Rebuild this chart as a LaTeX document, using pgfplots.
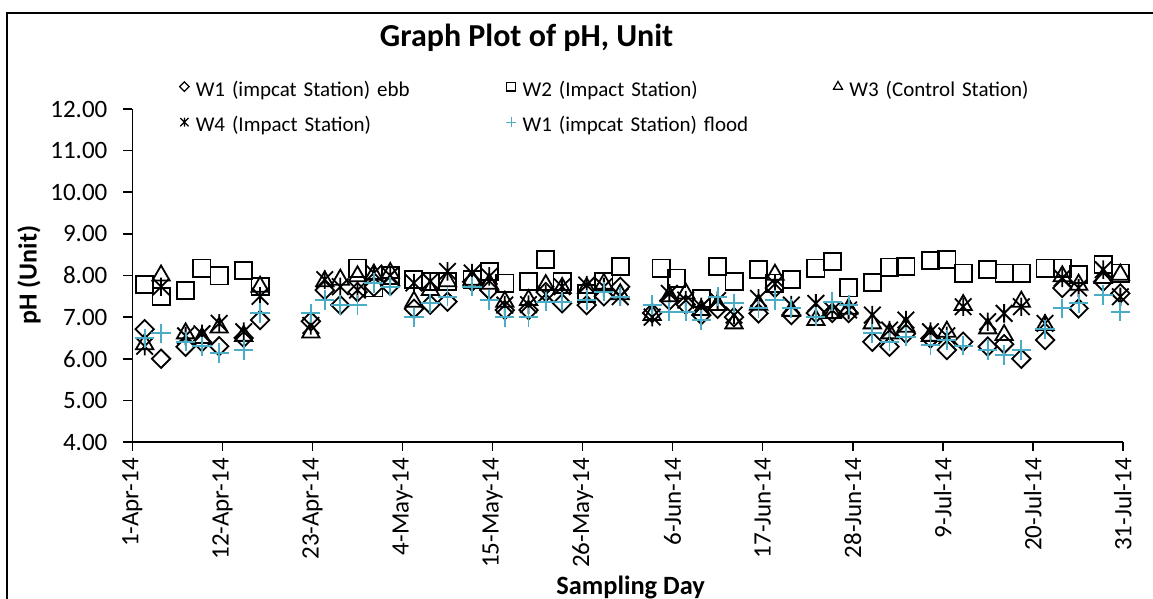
\documentclass[border=0pt]{standalone}
\usepackage{pgfplots}
\usepackage{pgfplotstable}
\pgfplotsset{compat=1.18}
\usepackage{fontspec}
\setmainfont{Carlito}
\definecolor{flood}{RGB}{75,172,198}

% Excel style markers: diamond = square turned 45 deg, star = X with a vertical bar
\pgfdeclareplotmark{xldiamond}{%
  \pgfpathmoveto{\pgfqpoint{0pt}{\pgfplotmarksize}}%
  \pgfpathlineto{\pgfqpoint{\pgfplotmarksize}{0pt}}%
  \pgfpathlineto{\pgfqpoint{0pt}{-\pgfplotmarksize}}%
  \pgfpathlineto{\pgfqpoint{-\pgfplotmarksize}{0pt}}%
  \pgfpathclose
  \pgfusepathqstroke}
\pgfdeclareplotmark{xlstar}{%
  \pgfpathmoveto{\pgfqpoint{-0.9\pgfplotmarksize}{-0.9\pgfplotmarksize}}%
  \pgfpathlineto{\pgfqpoint{0.9\pgfplotmarksize}{0.9\pgfplotmarksize}}%
  \pgfpathmoveto{\pgfqpoint{-0.9\pgfplotmarksize}{0.9\pgfplotmarksize}}%
  \pgfpathlineto{\pgfqpoint{0.9\pgfplotmarksize}{-0.9\pgfplotmarksize}}%
  \pgfpathmoveto{\pgfqpoint{0pt}{-\pgfplotmarksize}}%
  \pgfpathlineto{\pgfqpoint{0pt}{\pgfplotmarksize}}%
  \pgfusepathqstroke}

% day = days after 1-Apr-14
\pgfplotstableread{
day   ebb   wthree wfour flood
1.5   6.71  6.35   6.30  6.49
3.5   6.00  8.00   7.73  6.61
6.5   6.29  6.61   6.55  6.41
8.5   6.40  6.50   6.60  6.30
10.6  6.30  6.75   6.85  6.14
13.6  6.50  6.55   6.65  6.21
15.6  6.93  7.73   7.50  7.10
21.8  6.90  6.63   6.80  7.09
23.5  7.65  7.86   7.90  7.41
25.4  7.29  7.90   7.73  7.29
27.5  7.60  7.98   7.65  7.29
29.5  7.73  8.02   8.06  7.82
31.5  7.75  8.06   8.00  7.73
34.4  7.20  7.37   7.82  7.00
36.4  7.30  7.65   7.86  7.33
38.5  7.37  7.86   8.10  7.49
41.5  7.85  7.90   8.06  7.73
43.6  7.65  7.80   7.98  7.41
45.5  7.17  7.37   7.29  7.00
48.4  7.17  7.41   7.30  7.00
50.5  7.60  7.77   7.55  7.37
52.5  7.33  7.70   7.73  7.37
55.5  7.29  7.70   7.77  7.41
57.6  7.50  7.80   7.73  7.61
59.6  7.73  7.55   7.49  7.49
63.5  7.10  7.05   7.00  7.29
65.6  7.40  7.50   7.57  7.13
67.6  7.30  7.57   7.41  7.13
69.5  7.05  7.17   7.25  6.93
71.5  7.20  7.29   7.40  7.49
73.5  7.00  6.85   7.05  7.33
76.5  7.09  7.30   7.45  7.21
78.5  7.70  8.02   7.80  7.41
80.5  7.05  7.15   7.29  7.21
83.5  7.10  6.93   7.33  7.01
85.5  7.10  7.10   7.17  7.37
87.5  7.10  7.20   7.17  7.29
90.4  6.41  6.85   7.05  6.61
92.5  6.29  6.61   6.69  6.41
94.5  6.60  6.77   6.93  6.53
97.5  6.49  6.55   6.65  6.33
99.5  6.21  6.65   6.55  6.45
101.5 6.41  7.29   7.25  6.31
104.5 6.29  6.73   6.89  6.21
106.5 6.35  6.57   7.09  6.09
108.6 6.00  7.37   7.25  6.21
111.5 6.45  6.81   6.85  6.71
113.6 7.70  7.98   7.94  7.21
115.6 7.21  7.78   7.70  7.33
118.6 7.85  7.94   8.14  7.53
120.7 7.57  8.02   7.49  7.13
}\stations

\pgfplotstableread{
day   wtwo
1.5   7.79
3.5   7.49
6.5   7.64
8.5   8.18
10.6  7.99
13.6  8.12
15.6  7.73
27.5  8.18
29.5  7.70
31.5  8.00
34.4  7.90
36.4  7.86
38.5  7.86
41.5  7.90
43.6  8.10
45.5  7.82
48.4  7.86
50.5  8.38
52.5  7.86
55.5  7.57
57.6  7.86
59.6  8.22
64.6  8.18
66.5  7.94
69.5  7.45
71.5  8.22
73.5  7.86
76.5  8.14
78.5  7.82
80.5  7.90
83.5  8.18
85.5  8.34
87.5  7.70
90.4  7.83
92.5  8.20
94.5  8.22
97.5  8.36
99.5  8.38
101.5 8.06
104.5 8.15
106.5 8.06
108.6 8.06
111.5 8.18
113.6 8.18
115.6 8.02
118.6 8.26
120.7 8.06
}\wtwo

\begin{document}
\begin{tikzpicture}
\begin{axis}[
  at={(66.2bp,78.5bp)}, anchor=south west,
  scale only axis, width=495.2bp, height=166.5bp,
  xmin=0, xmax=121, ymin=4, ymax=12,
  clip=false,
  axis x line*=bottom, axis y line*=left,
  axis line style={-, line width=0.8bp, black},
  tick align=outside, major tick length=4.5bp,
  every tick/.style={black, line width=0.8bp},
  xtick={0,11,...,121},
  xticklabels={1-Apr-14,12-Apr-14,23-Apr-14,4-May-14,15-May-14,26-May-14,6-Jun-14,17-Jun-14,28-Jun-14,9-Jul-14,20-Jul-14,31-Jul-14},
  xticklabel style={rotate=90, anchor=east, font=\fontsize{12.5bp}{15bp}\selectfont},
  ytick={4,5,...,12},
  yticklabel style={xshift=-4.5bp, font=\fontsize{12.5bp}{15bp}\selectfont},
  /pgf/number format/fixed,
  /pgf/number format/fixed zerofill,
  /pgf/number format/precision=2,
  /pgf/number format/assume math mode=true,
  title={Graph Plot of pH, Unit},
  title style={at={(axis description cs:0.398,1.219)}, anchor=center, yshift=-6.8pt, font=\bfseries\fontsize{16bp}{19bp}\selectfont},
  xlabel={Sampling Day},
  xlabel style={at={(axis description cs:0.503,-0.438)}, anchor=center, font=\bfseries\fontsize{13.2bp}{16bp}\selectfont},
  ylabel={pH (Unit)},
  ylabel style={at={(axis description cs:-0.1044,0.501)}, anchor=center, font=\bfseries\fontsize{13bp}{16bp}\selectfont},
  legend columns=3,
  legend style={draw=none, fill=none, inner sep=0pt, outer sep=0pt,
    at={(axis description cs:0.042,1.084)}, anchor=north west,
    font=\fontsize{10.5bp}{12bp}\selectfont,
    nodes={inner sep=0pt, text height=7.5bp, text depth=2.5bp, text width=152.5bp, align=left},
    /tikz/row sep=7.75bp, /tikz/column sep=0pt,
    /tikz/every odd column/.append style={column sep=0.5bp}},
  legend image code/.code={\path (-5bp,0) (5bp,0); \draw[#1] plot coordinates {(0bp,2.2bp)};},
]
\addlegendimage{only marks, mark=xldiamond, mark size=2.4bp, black, mark options={line width=0.6bp}}
\addlegendentry{W1 (impcat Station) ebb}
\addlegendimage{only marks, mark=square, mark size=2.2bp, black, mark options={line width=0.6bp}}
\addlegendentry{W2 (Impact Station)}
\addlegendimage{only marks, mark=triangle, mark size=2.6bp, black, mark options={line width=0.6bp}}
\addlegendentry{W3 (Control Station)}
\addlegendimage{only marks, mark=xlstar, mark size=2.3bp, black, mark options={line width=0.6bp}}
\addlegendentry{W4 (Impact Station)}
\addlegendimage{only marks, mark=+, mark size=2.6bp, flood, mark options={line width=0.6bp}}
\addlegendentry{W1 (impcat Station) flood}

\addplot[only marks, mark=xldiamond, mark size=4.6bp, black, mark options={line width=0.9bp}, forget plot]
  table[x=day, y=ebb] {\stations};
\addplot[only marks, mark=square, mark size=4.3bp, black, mark options={line width=0.9bp}, forget plot]
  table[x=day, y=wtwo] {\wtwo};
\addplot[only marks, mark=triangle, mark size=5bp, black, mark options={line width=0.9bp}, forget plot]
  table[x=day, y=wthree] {\stations};
\addplot[only marks, mark=xlstar, mark size=4.6bp, black, mark options={line width=0.9bp}, forget plot]
  table[x=day, y=wfour] {\stations};
\addplot[only marks, mark=+, mark size=4.8bp, flood, mark options={line width=0.9bp}, forget plot]
  table[x=day, y=flood] {\stations};
\end{axis}
% chart area border: only its left and top edges fall inside the picture
\fill[black] (3.2bp,0bp) rectangle (4.2bp,293.7bp);
\fill[black] (3.2bp,292.7bp) rectangle (576.5bp,293.7bp);
\pgfresetboundingbox
\path[use as bounding box] (0bp,0bp) rectangle (576.5bp,299.5bp);
\end{tikzpicture}
\end{document}
